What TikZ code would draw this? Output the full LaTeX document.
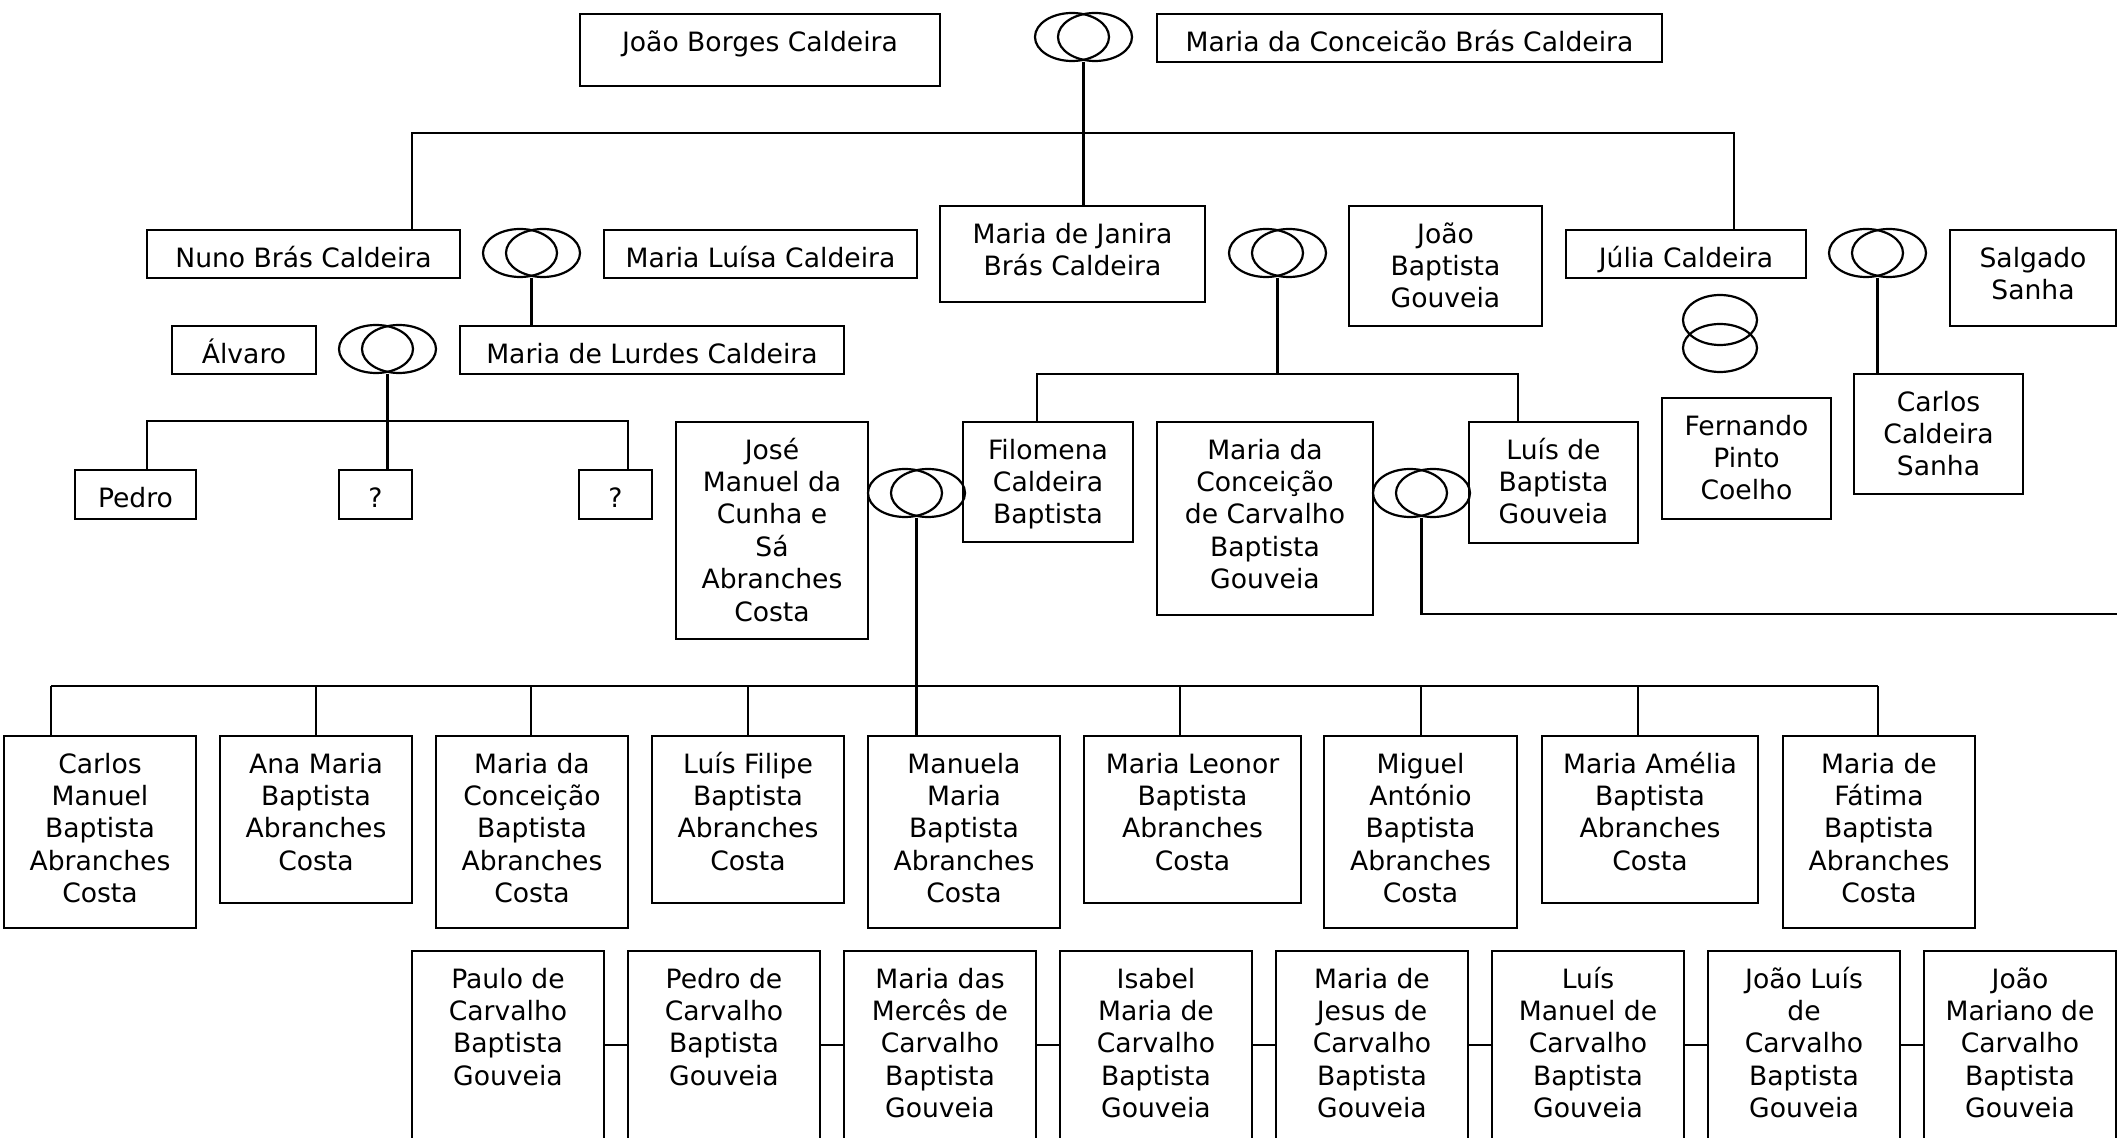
\documentclass[tikz,border=0pt]{standalone}
\usepackage{fontspec}
\setmainfont{DejaVu Sans}
\usepackage{tikz}
\usetikzlibrary{calc}
\usetikzlibrary{shapes.geometric}
\newcommand{\pname}[1]{\begin{tabular}[t]{@{}c@{}}#1\end{tabular}}

\begin{document}
\begin{tikzpicture}[x=0.5pt,y=-0.5pt,line width=1.1pt]
\tikzset{person/.style={draw,rectangle,anchor=north,inner sep=0pt,text height=18.5pt,font=\fontsize{13.3}{16.2}\selectfont}}
\tikzset{ring/.style={draw,ellipse,inner sep=0pt,minimum width=37pt,minimum height=24pt}}
\useasboundingbox (0,0) rectangle (2117,1138);

% first generation
\node (jbc) at (760,13) [person,minimum width=180pt,text depth=17.5pt] {\pname{João Borges Caldeira}};
\node (r1a) at (1072,37) [ring] {};
\node (r1b) at (1095,37) [ring] {};
\node (mcbc) at (1409.5,13) [person,minimum width=252.5pt,text depth=5.5pt] {\pname{Maria da Conceicão Brás Caldeira}};

% second generation
\node (nuno) at (303.5,229) [person,minimum width=156.5pt,text depth=5.5pt] {\pname{Nuno Brás Caldeira}};
\node (r2a) at (520,253) [ring] {};
\node (r2b) at (543,253) [ring] {};
\node (mlc) at (760.5,229) [person,minimum width=156.5pt,text depth=5.5pt] {\pname{Maria Luísa Caldeira}};
\node (mjbc) at (1072.5,205) [person,minimum width=132.5pt,text depth=29.5pt] {\pname{Maria de Janira\\Brás Caldeira}};
\node (r3a) at (1266,253) [ring] {};
\node (r3b) at (1289,253) [ring] {};
\node (jbg) at (1445.5,205) [person,minimum width=96.5pt,text depth=41.5pt] {\pname{João\\Baptista\\Gouveia}};
\node (julia) at (1686,229) [person,minimum width=120pt,text depth=5.5pt] {\pname{Júlia Caldeira}};
\node (r4a) at (1866,253) [ring] {};
\node (r4b) at (1889,253) [ring] {};
\node (salgado) at (2033,229) [person,minimum width=83pt,text depth=29.5pt] {\pname{Salgado\\Sanha}};
\node (r5a) at (1720,320) [ring,minimum height=25pt] {};
\node (r5b) at (1720,348) [ring] {};

% third generation
\node (alvaro) at (244,325) [person,minimum width=72pt,text depth=5.5pt] {\pname{Álvaro}};
\node (r6a) at (376,349) [ring] {};
\node (r6b) at (399,349) [ring] {};
\node (mlurdes) at (652,325) [person,minimum width=192pt,text depth=5.5pt] {\pname{Maria de Lurdes Caldeira}};
\node (pedro) at (135.5,469) [person,minimum width=60.5pt,text depth=6pt] {\pname{Pedro}};
\node (q1) at (375.5,469) [person,minimum width=36.5pt,text depth=6pt] {\pname{?}};
\node (q2) at (615.5,469) [person,minimum width=36.5pt,text depth=6pt] {\pname{?}};
\node (jose) at (772,421) [person,minimum width=96pt,text depth=90pt] {\pname{José\\Manuel da\\Cunha e\\Sá\\Abranches\\Costa}};
\node (r7a) at (905,493) [ring] {};
\node (r7b) at (928,493) [ring] {};
\node (filomena) at (1048,421) [person,minimum width=85pt,text depth=41.5pt] {\pname{Filomena\\Caldeira\\Baptista}};
\node (mccbg) at (1265,421) [person,minimum width=108pt,text depth=78pt] {\pname{Maria da\\Conceição\\de Carvalho\\Baptista\\Gouveia}};
\node (r8a) at (1410,493) [ring] {};
\node (r8b) at (1433,493) [ring] {};
\node (lbg) at (1553.5,421) [person,minimum width=84.5pt,text depth=42pt] {\pname{Luís de\\Baptista\\Gouveia}};
\node (fernando) at (1746.5,397) [person,minimum width=84.5pt,text depth=42pt] {\pname{Fernando\\Pinto\\Coelho}};
\node (csanha) at (1938.5,373) [person,minimum width=84.5pt,text depth=41.5pt] {\pname{Carlos\\Caldeira\\Sanha}};

% children of jose and filomena
\node (c1) at (100,735) [person,minimum width=96pt,text depth=77.5pt] {\pname{Carlos\\Manuel\\Baptista\\Abranches\\Costa}};
\node (c2) at (316,735) [person,minimum width=96pt,text depth=65pt] {\pname{Ana Maria\\Baptista\\Abranches\\Costa}};
\node (c3) at (532,735) [person,minimum width=96pt,text depth=77.5pt] {\pname{Maria da\\Conceição\\Baptista\\Abranches\\Costa}};
\node (c4) at (748,735) [person,minimum width=96pt,text depth=65pt] {\pname{Luís Filipe\\Baptista\\Abranches\\Costa}};
\node (c5) at (964,735) [person,minimum width=96pt,text depth=77.5pt] {\pname{Manuela\\Maria\\Baptista\\Abranches\\Costa}};
\node (c6) at (1192.5,735) [person,minimum width=108.5pt,text depth=65pt] {\pname{Maria Leonor\\Baptista\\Abranches\\Costa}};
\node (c7) at (1420.5,735) [person,minimum width=96.5pt,text depth=77.5pt] {\pname{Miguel\\António\\Baptista\\Abranches\\Costa}};
\node (c8) at (1650,735) [person,minimum width=108pt,text depth=65pt] {\pname{Maria Amélia\\Baptista\\Abranches\\Costa}};
\node (c9) at (1879,735) [person,minimum width=96pt,text depth=77.5pt] {\pname{Maria de\\Fátima\\Baptista\\Abranches\\Costa}};

% children of maria da conceicao and luis
\node (g1) at (508,950) [person,minimum width=96pt,text depth=101.5pt] {\pname{Paulo de\\Carvalho\\Baptista\\Gouveia}};
\node (g2) at (724,950) [person,minimum width=96pt,text depth=101.5pt] {\pname{Pedro de\\Carvalho\\Baptista\\Gouveia}};
\node (g3) at (940,950) [person,minimum width=96pt,text depth=101.5pt] {\pname{Maria das\\Mercês de\\Carvalho\\Baptista\\Gouveia}};
\node (g4) at (1156,950) [person,minimum width=96pt,text depth=101.5pt] {\pname{Isabel\\Maria de\\Carvalho\\Baptista\\Gouveia}};
\node (g5) at (1372,950) [person,minimum width=96pt,text depth=101.5pt] {\pname{Maria de\\Jesus de\\Carvalho\\Baptista\\Gouveia}};
\node (g6) at (1588,950) [person,minimum width=96pt,text depth=101.5pt] {\pname{Luís\\Manuel de\\Carvalho\\Baptista\\Gouveia}};
\node (g7) at (1804,950) [person,minimum width=96pt,text depth=101.5pt] {\pname{João Luís\\de\\Carvalho\\Baptista\\Gouveia}};
\node (g8) at (2020,950) [person,minimum width=96pt,text depth=101.5pt] {\pname{João\\Mariano de\\Carvalho\\Baptista\\Gouveia}};

% ring bottoms
\coordinate (r1) at ($(r1a.south)!0.5!(r1b.south)$);
\coordinate (r2) at ($(r2a.south)!0.5!(r2b.south)$);
\coordinate (r3) at ($(r3a.south)!0.5!(r3b.south)$);
\coordinate (r4) at ($(r4a.south)!0.5!(r4b.south)$);
\coordinate (r6) at ($(r6a.south)!0.5!(r6b.south)$);
\coordinate (r7) at ($(r7a.south)!0.5!(r7b.south)$);
\coordinate (r8) at ($(r8a.south)!0.5!(r8b.south)$);

% lines
\coordinate (t1) at (412,133);
\coordinate (t2) at (1734,133);
\draw (r1) -- (r1 |- mjbc.north);
\draw (t1 |- nuno.north) -- (t1) -- (t2) -- (t2 |- julia.north);
\draw (r2) -- (r2 |- mlurdes.north);
\draw (r4) -- (r4 |- csanha.north);

\coordinate (u1) at (1037,374);
\coordinate (u2) at (1518,374);
\draw (r3) -- (r3 |- u1);
\draw (u1 |- filomena.north) -- (u1) -- (u2) -- (u2 |- lbg.north);

\coordinate (s1) at (147,421);
\coordinate (s2) at (628,421);
\draw (r6) -- (r6 |- q1.north);
\draw (s1 |- pedro.north) -- (s1) -- (s2) -- (s2 |- q2.north);

\coordinate (v1) at (2117,614);
\draw (r8) |- (v1);

\coordinate (w1) at (51,686);
\coordinate (w2) at (1878,686);
\draw (r7) -- (r7 |- c5.north);
\draw (w1) -- (w2);
\foreach \c/\x in {c1/51,c2/316,c3/531,c4/748,c6/1180,c7/1421,c8/1638,c9/1878}
  \draw (\x,686) -- (\x,686 |- \c.north);

\foreach \a/\b in {g1/g2,g2/g3,g3/g4,g4/g5,g5/g6,g6/g7,g7/g8}
  \draw (\a.east |- 0,1045) -- (\b.west |- 0,1045);
\end{tikzpicture}
\end{document}
